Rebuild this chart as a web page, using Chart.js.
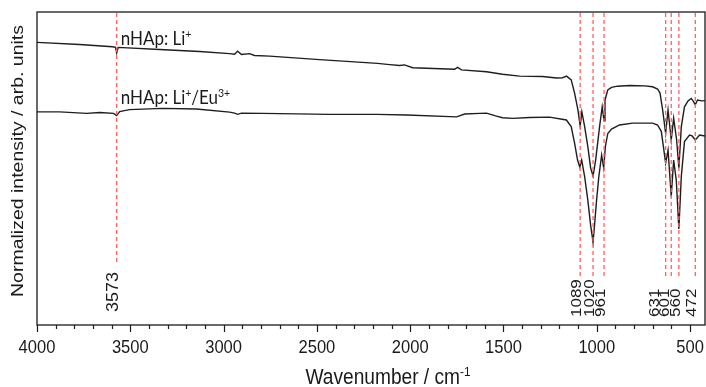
<!DOCTYPE html>
<html>
<head>
<meta charset="utf-8">
<script src="https://cdn.jsdelivr.net/npm/chart.js@4.4.1/dist/chart.umd.min.js"></script>
<style>
  html, body { margin: 0; padding: 0; background: #ffffff; }
  #wrap { width: 706px; height: 387px; position: relative; }
</style>
</head>
<body>
<div id="wrap"><canvas id="c" width="706" height="387"></canvas></div>
<script>
// ---- data ----
const liWavenumber = [4000, 3772, 3595, 3579, 3573, 3565, 3343, 3129, 2968, 2941, 2925, 2904, 2861, 2834, 2753, 2486, 2175, 2110, 2057, 2030, 1987, 1762, 1746, 1725, 1591, 1505, 1414, 1291, 1215, 1183, 1162, 1137, 1119, 1101, 1089, 1080, 1065, 1048, 1033, 1020, 1006, 985, 971, 961, 956, 941, 921, 889, 824, 744, 701, 674, 661, 647, 631, 618, 601, 588, 572, 560, 547, 530, 511, 494, 484, 472, 460, 438, 420];
const liIntensity = [90.3, 89.6, 88.9, 88.7, 86.9, 88.7, 88.0, 87.4, 86.7, 86.5, 87.5, 86.4, 86.7, 86.1, 85.9, 84.8, 83.6, 83.2, 82.9, 83.1, 82.2, 81.7, 82.3, 81.5, 80.9, 80.1, 79.5, 79.4, 78.9, 79.0, 79.5, 78.3, 74.1, 68.7, 63.6, 68.1, 63.4, 57.0, 50.2, 47.6, 52.7, 63.4, 69.7, 65.2, 71.9, 75.1, 75.9, 76.3, 76.5, 76.4, 76.1, 75.4, 74.1, 68.7, 61.3, 68.7, 59.1, 66.1, 59.1, 50.1, 63.4, 69.7, 71.6, 72.4, 71.6, 70.4, 71.9, 71.6, 71.7];

const euWavenumber = [4000, 3879, 3734, 3664, 3590, 3573, 3557, 3504, 3327, 3145, 2968, 2941, 2925, 2904, 2791, 2432, 2180, 2019, 1751, 1708, 1628, 1591, 1542, 1505, 1451, 1360, 1253, 1163, 1137, 1119, 1103, 1091, 1081, 1065, 1048, 1033, 1020, 1012, 1001, 989, 974, 963, 954, 941, 921, 878, 808, 701, 674, 654, 631, 618, 601, 588, 574, 560, 547, 530, 503, 489, 472, 449, 420];
const euIntensity = [68.1, 68.1, 67.6, 67.9, 67.6, 66.9, 68.2, 68.8, 69.2, 69.0, 68.0, 67.7, 67.3, 67.7, 67.6, 67.3, 67.3, 67.1, 66.5, 67.4, 67.6, 67.7, 66.8, 66.2, 66.0, 66.3, 66.4, 65.5, 63.4, 58.1, 52.7, 50.5, 52.7, 47.4, 39.9, 31.9, 26.5, 31.9, 39.9, 47.4, 54.3, 50.2, 57.0, 61.2, 62.6, 63.9, 64.5, 64.5, 63.9, 61.8, 51.7, 55.9, 41.0, 52.7, 46.3, 30.7, 47.4, 58.6, 60.7, 60.4, 59.1, 60.7, 60.4];

const peakPositions = [3573, 1089, 1020, 961, 631, 601, 560, 472];
const majorTicks = [4000, 3500, 3000, 2500, 2000, 1500, 1000, 500];
const minorTicks = [3900, 3800, 3700, 3600, 3400, 3300, 3200, 3100, 2900, 2800, 2700, 2600, 2400, 2300, 2200, 2100, 1900, 1800, 1700, 1600, 1400, 1300, 1200, 1100, 900, 800, 700, 600];
const seriesNames = [
  [{t: 'nHAp: Li'}, {t: '+', sup: true}],
  [{t: 'nHAp: Li'}, {t: '+', sup: true}, {t: '/Eu'}, {t: '3+', sup: true}]
];
const xTitle = [{t: 'Wavenumber / cm'}, {t: '-1', sup: true}];
const yTitle = 'Normalized intensity / arb. units';

// ---- helpers ----
const SQX = 0.87; // horizontal compression seen in the reference
const ARIAL = '"Liberation Sans", Arial, sans-serif';
const CAL = 'Lato, "Open Sans", sans-serif';

function segWidth(ctx, segs, size, fam) {
  let w = 0;
  for (const s of segs) {
    ctx.font = (s.sup ? size * 0.62 : size) + 'px ' + fam;
    w += ctx.measureText(s.t).width;
  }
  return w;
}
function drawSegs(ctx, segs, size, fam, align) {
  const total = segWidth(ctx, segs, size, fam);
  let x = align === 'center' ? -total / 2 : (align === 'right' ? -total : 0);
  ctx.textAlign = 'left';
  for (const s of segs) {
    ctx.font = (s.sup ? size * 0.62 : size) + 'px ' + fam;
    ctx.fillText(s.t, x, s.sup ? -size * 0.38 : 0);
    x += ctx.measureText(s.t).width;
  }
}
function textAt(ctx, segs, X, Y, size, fam, align, baseline, rot, color) {
  ctx.save();
  ctx.translate(X, Y);
  ctx.scale(SQX, 1);
  if (rot) ctx.rotate(rot);
  ctx.fillStyle = color || '#1a1a1a';
  ctx.textBaseline = baseline || 'alphabetic';
  drawSegs(ctx, segs, size, fam, align);
  ctx.restore();
}

const decor = {
  id: 'decor',
  afterDatasetsDraw(chart) {
    const {ctx, chartArea: a, scales: {x}} = chart;
    // dashed peak lines
    ctx.save();
    ctx.strokeStyle = '#ff5f5f';
    ctx.lineWidth = 1.3;
    ctx.setLineDash([4, 3]);
    for (const p of peakPositions) {
      const px = x.getPixelForValue(p);
      const end = p > 2000 ? 263 : 277;
      ctx.beginPath();
      ctx.moveTo(px, a.top + 1);
      ctx.lineTo(px, end);
      ctx.stroke();
    }
    ctx.restore();
    // peak labels (baseline beside the line, spread apart where crowded)
    const sorted = peakPositions.slice().sort((p, q) => p - q); // right to left on reversed axis
    let prev = Infinity;
    for (const p of sorted) {
      let px = x.getPixelForValue(p) + 1;
      px = Math.min(px, prev - 10.5);
      prev = px;
      const far = p > 2000;
      textAt(ctx, [{t: String(p)}], px, far ? 312 : 317, far ? 18 : 17, ARIAL, 'left', 'alphabetic', -Math.PI / 2);
    }
    // frame
    ctx.save();
    ctx.strokeStyle = '#1a1a1a';
    ctx.lineWidth = 1.3;
    ctx.strokeRect(a.left, a.top, a.right - a.left, a.bottom - a.top);
    // ticks
    ctx.lineWidth = 1.2;
    for (const t of majorTicks) {
      const px = Math.round(x.getPixelForValue(t)) + 0.5;
      ctx.beginPath(); ctx.moveTo(px, a.bottom); ctx.lineTo(px, a.bottom + 7); ctx.stroke();
    }
    for (const t of minorTicks) {
      const px = Math.round(x.getPixelForValue(t)) + 0.5;
      ctx.beginPath(); ctx.moveTo(px, a.bottom); ctx.lineTo(px, a.bottom + 4); ctx.stroke();
    }
    ctx.restore();
    for (const t of majorTicks) {
      textAt(ctx, [{t: String(t)}], x.getPixelForValue(t), 353, 19, ARIAL, 'center', 'alphabetic');
    }
    // axis titles
    textAt(ctx, xTitle, 388, 384, 22, ARIAL, 'center', 'alphabetic');
    textAt(ctx, [{t: yTitle}], 18.5, 161, 19.5, ARIAL, 'center', 'middle', -Math.PI / 2);
    // series labels
    const lx = x.getPixelForValue(3573) + 4;
    textAt(ctx, seriesNames[0], lx, 45, 19.5, CAL, 'left', 'alphabetic');
    textAt(ctx, seriesNames[1], lx, 104, 19.5, CAL, 'left', 'alphabetic');
  }
};

function pts(xs, ys) { return xs.map((v, i) => ({x: v, y: ys[i]})); }

new Chart(document.getElementById('c'), {
  type: 'line',
  data: {
    datasets: [
      { label: 'nHAp: Li+', data: pts(liWavenumber, liIntensity), borderColor: '#1e1e1e', borderWidth: 1.4, pointRadius: 0, tension: 0 },
      { label: 'nHAp: Li+/Eu3+', data: pts(euWavenumber, euIntensity), borderColor: '#1e1e1e', borderWidth: 1.4, pointRadius: 0, tension: 0 }
    ]
  },
  options: {
    responsive: false,
    animation: false,
    events: [],
    layout: { padding: { top: 12, right: 1, left: 0, bottom: 0 } },
    plugins: { legend: { display: false }, tooltip: { enabled: false } },
    scales: {
      x: {
        type: 'linear', reverse: true, min: 420, max: 4000,
        grid: { display: false }, border: { display: false },
        ticks: { display: false },
        afterFit(s) { s.height = 62; }
      },
      y: {
        min: 0, max: 100,
        grid: { display: false }, border: { display: false },
        ticks: { display: false },
        afterFit(s) { s.width = 37; }
      }
    }
  },
  plugins: [decor]
});
</script>
</body>
</html>
